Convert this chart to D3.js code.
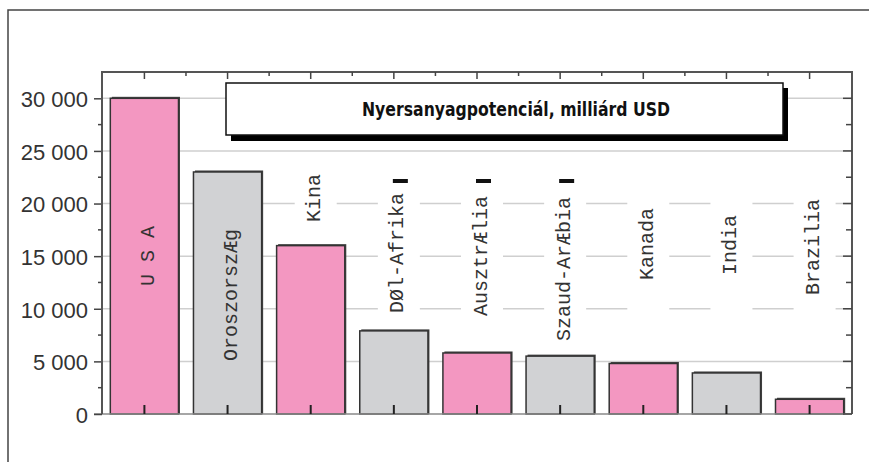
<!DOCTYPE html>
<html>
<head>
<meta charset="utf-8">
<script src="https://cdn.jsdelivr.net/npm/d3@7"></script>
<style>
  body { margin: 0; background: #fff; }
  svg { display: block; }
</style>
</head>
<body>
<svg></svg>
<script>
const width = 869;
const height = 462;

// data
const countries = ["U S A", "OroszorszÆg", "Kina", "DØl-Afrika", "AusztrÆlia", "Szaud-ArÆbia", "Kanada", "India", "Brazilia"];
const values = [30000, 23000, 16000, 7900, 5800, 5500, 4800, 3900, 1400];
const yTicks = [0, 5000, 10000, 15000, 20000, 25000, 30000];
const title = "Nyersanyagpotenciál, milliárd USD";

const pink = "#f397c1";
const grey = "#d1d2d4";

const svg = d3.select("svg")
  .attr("width", width)
  .attr("height", height);

// outer frame (only top and left edges show)
svg.append("path")
  .attr("d", `M8,${height} V10 H${width}`)
  .attr("fill", "none")
  .attr("stroke", "#444")
  .attr("stroke-width", 1.5);

const plotLeft = 102, plotRight = 852, plotTop = 72, plotBottom = 414;

const x = d3.scaleBand()
  .domain(countries)
  .range([plotLeft, plotRight])
  .paddingInner(0.18)
  .paddingOuter(0.1);

const y = d3.scaleLinear()
  .domain([0, 32500])
  .range([plotBottom, plotTop]);

const minor = d3.range(0, 32500, 2500);
const mid = d => x(d) + x.bandwidth() / 2;

// gridlines
svg.append("g")
  .selectAll("line")
  .data(yTicks.filter(d => d > 0))
  .enter()
  .append("line")
  .attr("x1", plotLeft)
  .attr("x2", plotRight)
  .attr("y1", d => y(d))
  .attr("y2", d => y(d))
  .attr("stroke", "#cfcfcf")
  .attr("stroke-width", 1.5);

// white columns behind the rotated names
svg.append("g")
  .selectAll("rect")
  .data(countries)
  .enter()
  .append("rect")
  .attr("x", d => mid(d) + 5 - 21)
  .attr("y", 160)
  .attr("width", 42)
  .attr("height", 180)
  .attr("fill", "#fff");

// bars with a thin dark shadow
const bars = svg.append("g");
bars.selectAll("rect.shadow")
  .data(values)
  .enter()
  .append("rect")
  .attr("class", "shadow")
  .attr("x", (d, i) => x(countries[i]) + 1.5)
  .attr("y", d => y(d) - 1.5)
  .attr("width", x.bandwidth())
  .attr("height", d => plotBottom - y(d) + 1.5)
  .attr("fill", "#444");

bars.selectAll("rect.bar")
  .data(values)
  .enter()
  .append("rect")
  .attr("class", "bar")
  .attr("x", (d, i) => x(countries[i]))
  .attr("y", d => y(d))
  .attr("width", x.bandwidth())
  .attr("height", d => plotBottom - y(d))
  .attr("fill", (d, i) => i % 2 === 0 ? pink : grey)
  .attr("stroke", "#333")
  .attr("stroke-width", 1.5);

// small black marks above three of the names
svg.append("g")
  .selectAll("rect")
  .data(countries.slice(3, 6))
  .enter()
  .append("rect")
  .attr("x", d => mid(d) - 1)
  .attr("y", 179)
  .attr("width", 15)
  .attr("height", 4)
  .attr("fill", "#111");

// rotated names, centre of each label
const labelMid = [256, 295, 198, 253, 256, 269, 244, 245, 247];
svg.append("g")
  .selectAll("text")
  .data(countries)
  .enter()
  .append("text")
  .attr("transform", (d, i) => `translate(${mid(d) + 4},${labelMid[i]}) rotate(-90)`)
  .attr("text-anchor", "middle")
  .attr("dominant-baseline", "central")
  .attr("font-family", "'Liberation Mono', 'DejaVu Sans Mono', monospace")
  .attr("font-size", "20px")
  .attr("fill", "#333")
  .text(d => d);

// bottom axis line and ticks at bar centres
svg.append("line")
  .attr("x1", plotLeft - 8).attr("x2", plotRight)
  .attr("y1", plotBottom).attr("y2", plotBottom)
  .attr("stroke", "#888").attr("stroke-width", 1.5);

svg.append("g")
  .selectAll("line")
  .data(countries)
  .enter()
  .append("line")
  .attr("x1", mid)
  .attr("x2", mid)
  .attr("y1", plotBottom - 9)
  .attr("y2", plotBottom)
  .attr("stroke", "#222")
  .attr("stroke-width", 2);

// top axis with major ticks at bar centres and minor ticks between
svg.append("line")
  .attr("x1", plotLeft).attr("x2", plotRight)
  .attr("y1", plotTop).attr("y2", plotTop)
  .attr("stroke", "#555").attr("stroke-width", 2);

const topTicks = svg.append("g");
topTicks.selectAll("line.maj")
  .data(countries)
  .enter()
  .append("line")
  .attr("class", "maj")
  .attr("x1", mid)
  .attr("x2", mid)
  .attr("y1", plotTop).attr("y2", plotTop + 7)
  .attr("stroke", "#444").attr("stroke-width", 1.5);
topTicks.selectAll("line.min")
  .data(countries.slice(1))
  .enter()
  .append("line")
  .attr("class", "min")
  .attr("x1", d => mid(d) - x.step() / 2)
  .attr("x2", d => mid(d) - x.step() / 2)
  .attr("y1", plotTop).attr("y2", plotTop + 4)
  .attr("stroke", "#444").attr("stroke-width", 1.5);

// left axis
const yAxis = svg.append("g")
  .attr("transform", `translate(${plotLeft},0)`)
  .call(d3.axisLeft(y)
    .tickValues(yTicks)
    .tickSize(8)
    .tickPadding(6)
    .tickFormat(d => d3.format(",")(d).replace(/,/g, " ")));

yAxis.select(".domain").remove();
yAxis.selectAll(".tick line").attr("stroke", "#444").attr("stroke-width", 1.5);
yAxis.selectAll(".tick text")
  .attr("font-family", "'Liberation Sans', Arial, sans-serif")
  .attr("font-size", "22px")
  .attr("dy", "0.38em")
  .attr("fill", "#333");

svg.append("line")
  .attr("x1", plotLeft).attr("x2", plotLeft)
  .attr("y1", plotTop - 1).attr("y2", plotBottom)
  .attr("stroke", "#555").attr("stroke-width", 2);

svg.append("g")
  .selectAll("line")
  .data(minor.filter(d => d % 5000 !== 0))
  .enter()
  .append("line")
  .attr("x1", plotLeft - 4).attr("x2", plotLeft)
  .attr("y1", d => y(d)).attr("y2", d => y(d))
  .attr("stroke", "#444").attr("stroke-width", 1.5);

// right axis with inward ticks
svg.append("line")
  .attr("x1", plotRight).attr("x2", plotRight)
  .attr("y1", plotTop - 1).attr("y2", plotBottom)
  .attr("stroke", "#555").attr("stroke-width", 2);

svg.append("g")
  .selectAll("line")
  .data(minor)
  .enter()
  .append("line")
  .attr("x1", d => d % 5000 === 0 ? plotRight - 9 : plotRight - 6)
  .attr("x2", plotRight)
  .attr("y1", d => y(d)).attr("y2", d => y(d))
  .attr("stroke", "#444").attr("stroke-width", 1.5);

// title box with drop shadow
svg.append("rect")
  .attr("x", 231).attr("y", 88)
  .attr("width", 557).attr("height", 53)
  .attr("fill", "#000");
svg.append("rect")
  .attr("x", 226).attr("y", 83)
  .attr("width", 557).attr("height", 52)
  .attr("fill", "#fff")
  .attr("stroke", "#111")
  .attr("stroke-width", 1.5);
svg.append("text")
  .attr("x", 516)
  .attr("y", 116)
  .attr("text-anchor", "middle")
  .attr("font-family", "'Liberation Sans Narrow', 'DejaVu Sans Condensed', sans-serif")
  .attr("font-weight", "bold")
  .attr("font-size", "20px")
  .attr("textLength", 308)
  .attr("lengthAdjust", "spacingAndGlyphs")
  .attr("fill", "#111")
  .text(title);
</script>
</body>
</html>
